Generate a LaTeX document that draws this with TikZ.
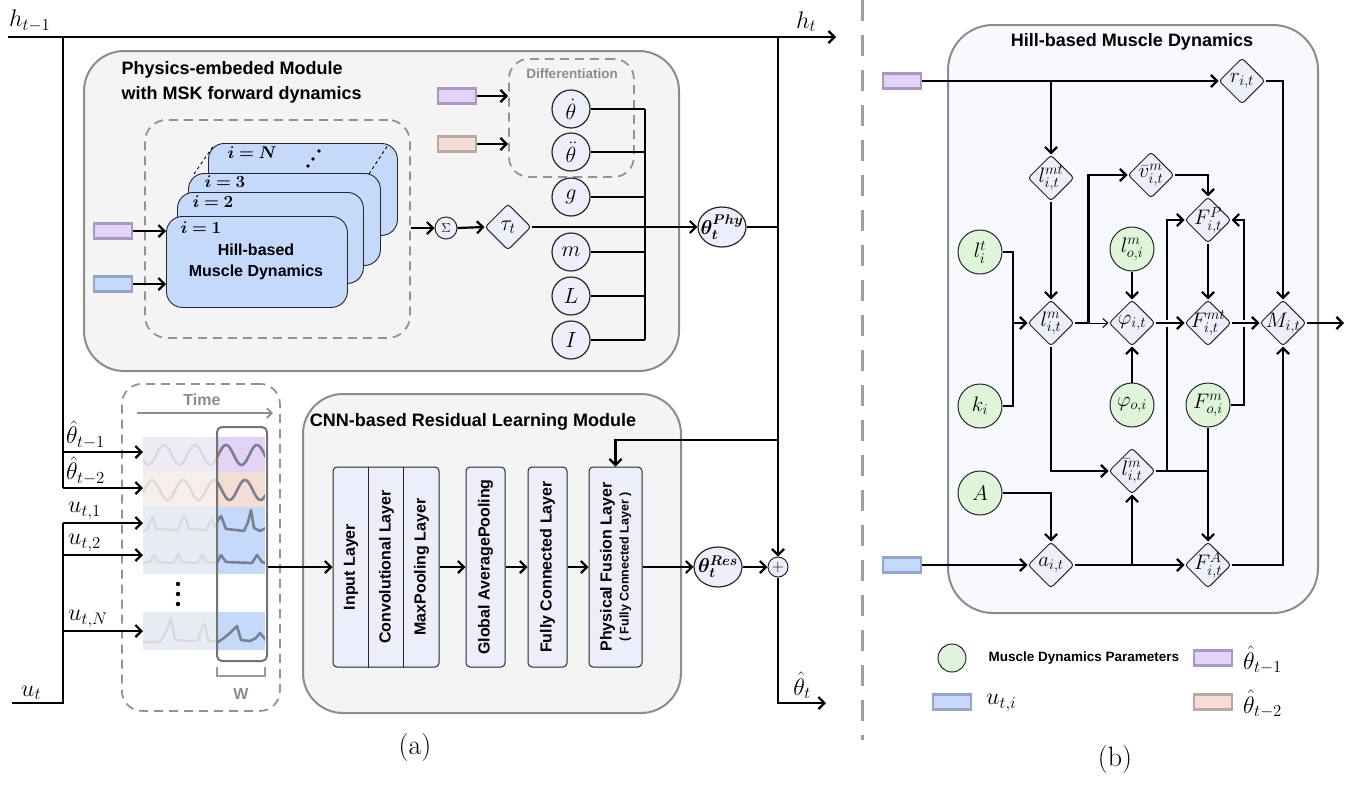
\RequirePackage{fix-cm}
\documentclass[tikz,border=0pt]{standalone}
\usepackage{amsmath}
\usepackage{bm}
\usepackage{fontspec}
\setsansfont{Liberation Sans}
\usetikzlibrary{arrows.meta,shapes.geometric,calc}
\definecolor{purp}{HTML}{E3D3F7}
\definecolor{purpb}{HTML}{A898C6}
\definecolor{peach}{HTML}{F4DDD3}
\definecolor{peachb}{HTML}{BCA8A1}
\definecolor{blu}{HTML}{C5DAFB}
\definecolor{blub}{HTML}{92A5CB}
\definecolor{lav}{HTML}{ECEEFC}
\definecolor{grn}{HTML}{DFF5D9}
\definecolor{modbg}{HTML}{F4F4F4}
\definecolor{hillbg}{HTML}{F8F9FF}
\definecolor{modln}{HTML}{8C8C8C}
\definecolor{fadeP}{HTML}{EEEBF4}
\definecolor{fadeE}{HTML}{F5EEEB}
\definecolor{fadeB}{HTML}{E7EBF3}
\definecolor{sigdark}{HTML}{7A8090}
\newcommand\fTitle{\fontsize{18}{25}\selectfont\sffamily\bfseries}
\newcommand\fLay{\fontsize{16}{19}\selectfont\sffamily\bfseries}
\newcommand\fMath{\fontsize{24}{26}\selectfont}
\newcommand\fDia{\fontsize{21}{23}\selectfont}
\newcommand\sigpaths{%
 \draw plot[domain=143:266,samples=100] (\x,{455-10*cos(11.613*(\x-164))});
 \draw plot[domain=143:266,samples=100] (\x,{490-10*cos(11.613*(\x-152))});
 \draw (143,531) -- (147,530) -- (150,522) -- (153,517) -- (156,529) -- (178,530) -- (182,520) -- (185,516) -- (189,529) -- (206,530) -- (210,522) -- (212,519) -- (215,528) -- (218,520) -- (221,516) -- (226,529) -- (236,530) -- (244,531) -- (248,522) -- (251,510) -- (254,528) -- (260,531) -- (266,528);
 \draw (143,563) -- (150,562) -- (154,555) -- (158,562) -- (174,563) -- (178,554) -- (182,562) -- (198,563) -- (202,555) -- (206,562) -- (217,563) -- (221,555) -- (226,562) -- (252,563) -- (257,555) -- (262,562) -- (266,563);
 \draw (143,642) -- (160,642) -- (166,632) -- (171,618) -- (175,640) -- (190,641) -- (198,640) -- (202,628) -- (205,624) -- (208,640) -- (218,642) -- (224,638) -- (230,633) -- (237,626) -- (241,640) -- (250,641) -- (256,638) -- (260,633) -- (266,640);
}
\begin{document}
\begin{tikzpicture}[x=1pt,y=-1pt,
  ln/.style={line width=2.2pt, black},
  arr/.style={ln, -{Straight Barb[length=6pt,width=12pt]}},
  mod/.style={draw=modln, line width=2pt, fill=modbg, rounded corners=40pt, inner sep=0},
  dbox/.style={draw=gray!85, line width=1.8pt, dash pattern=on 9pt off 6pt, rounded corners=22pt, inner sep=0},
  stk/.style={draw=black!85, line width=0.9pt, fill=blu, rounded corners=16pt, inner sep=0},
  pc/.style={circle, draw=black!85, line width=1.2pt, fill=lav, minimum size=38pt, inner sep=0},
  dia/.style={diamond, aspect=1, draw=black!85, line width=1pt, fill=lav, minimum size=46pt, inner sep=0, rounded corners=3pt},
  gc/.style={circle, draw=black!85, line width=1pt, fill=grn, minimum size=44pt, inner sep=0},
  dl/.style={label={[font=\fDia, inner sep=0]center:#1}},
  cl/.style={label={[font=\fontsize{22}{24}\selectfont, inner sep=0]center:#1}},
  el/.style={label={[font=\fontsize{20}{22}\selectfont, inner sep=0]center:#1}},
  lay/.style={draw=black!85, line width=1pt, fill=lav, minimum height=200pt, inner sep=0, rounded corners=4pt},
  ell/.style={ellipse, draw=black!85, line width=1.2pt, fill=lav, minimum width=48pt, minimum height=40pt, inner sep=0},
  chip/.style={rectangle, minimum width=38pt, minimum height=15pt, inner sep=0, line width=2.5pt},
  pchip/.style={chip, fill=purp, draw=purpb},
  echip/.style={chip, fill=peach, draw=peachb},
  bchip/.style={chip, fill=blu, draw=blub},
  mlab/.style={font=\fMath, inner sep=1pt},
  ttl/.style={font=\fTitle},
  gtxt/.style={font=\fontsize{16}{18}\selectfont\sffamily\bfseries, text=gray!90}
]
\useasboundingbox (0,0) rectangle (1363,785);

% ---------------- (a) ----------------
\coordinate (hL) at (8,37);
\coordinate (hR) at (836,37);
\draw[arr] (hL) -- (hR);
\node[mlab, anchor=south west] at (8,33) {$h_{t-1}$};
\node[mlab, anchor=south] at (806,33) {$h_t$};

% physics module
\node[mod, anchor=north west, minimum width=595pt, minimum height=320pt] (phys) at (83,50) {};
\node[ttl, anchor=north west, align=left] at (118,58) {Physics-embeded Module\\with MSK forward dynamics};
\node[dbox, anchor=north west, minimum width=265pt, minimum height=218pt] (dash1) at (144,119) {};
\node[stk, anchor=north west, minimum width=189pt, minimum height=92pt] (sN) at (208,143) {};
\node[stk, anchor=north west, minimum width=192pt, minimum height=92pt] (s3) at (188,173) {};
\draw[dashed, line width=0.9pt] (194,174) -- (214,145);
\draw[dashed, line width=0.9pt] (369,174) -- (388,145);
\node[stk, anchor=north west, minimum width=186pt, minimum height=91pt] (s2) at (177,192) {};
\node[stk, anchor=north west, minimum width=181pt, minimum height=91pt] (s1) at (166,216) {};
\fill (308,166) circle (1.8);
\fill (313,159) circle (1.8);
\fill (319,151) circle (1.8);
\node[anchor=west, font=\fontsize{17}{19}\selectfont] at (224,153) {$\bm{i=N}$};
\node[anchor=west, font=\fontsize{17}{19}\selectfont] at (201,182) {$\bm{i=3}$};
\node[anchor=west, font=\fontsize{17}{19}\selectfont] at (189,202) {$\bm{i=2}$};
\node[anchor=west, font=\fontsize{17}{19}\selectfont] at (177,228) {$\bm{i=1}$};
\node[align=center, font=\fontsize{16}{21}\selectfont\sffamily\bfseries] at (256,262) {Hill-based\\Muscle Dynamics};
\node[pchip] (p1) at (113,231) {};
\node[bchip] (b1) at (113,284) {};
\draw[arr] (p1.east) -- (p1 -| s1.west);
\draw[arr] (b1.east) -- (b1 -| s1.west);

\node[circle, draw=black!85, line width=1pt, fill=lav, minimum size=22pt, inner sep=0, font=\fontsize{13}{13}\selectfont] (sig) at (446,228) {$\Sigma$};
\draw[arr] (dash1.east |- sig) -- (sig.west);
\node[dia, cl={$\tau_t$}] (tau) at (508,227) {};
\draw[arr] (sig.east) -- (tau.west);

\node[dbox, anchor=north west, minimum width=125pt, minimum height=118pt, rounded corners=20pt] (diff) at (508,58) {};
\node[font=\fontsize{13.5}{15}\selectfont\sffamily\bfseries, text=gray!90] at (572,74) {Differentiation};
\node[pchip] (p2) at (457,96) {};
\node[echip] (e2) at (457,144) {};
\draw[arr] (p2.east) -- (p2 -| diff.west);
\draw[arr] (e2.east) -- (e2 -| diff.west);

\node[pc, cl={$\dot\theta$}] (c1) at (571,109) {};
\node[pc, cl={$\ddot\theta$}] (c2) at (571,152) {};
\node[pc, cl={$g$}] (c3) at (571,197) {};
\node[pc, cl={$m$}] (c4) at (571,252) {};
\node[pc, cl={$L$}] (c5) at (571,296) {};
\node[pc, cl={$I$}] (c6) at (571,340) {};
\coordinate (bus1) at (645,109);
\coordinate (bus6) at (645,340);
\foreach \c in {c1,c2,c3,c4,c5,c6} \draw[ln] (\c.east) -- (\c -| bus1);
\draw[ln] (bus1) -- (bus6);

\node[ell, el={$\bm{\theta}_{\bm t}^{\bm{Phy}}$}] (phy) at (722,227) {};
\draw[arr] (tau.east) -- (phy.west);
\coordinate (vtop) at (778,37);
\draw[ln] (phy.east) -- (phy -| vtop);

% time window
\node[dbox, anchor=north west, minimum width=158pt, minimum height=327pt, rounded corners=20pt] (timeb) at (121,383) {};
\node[gtxt] (tlab) at (202,400) {Time};
\draw[gray!90, line width=1.6pt, -{Straight Barb[length=5pt,width=10pt]}] (137,413) -- (273,413);
\fill[fadeP] (143,437) rectangle (216,472);
\fill[purp] (216,437) rectangle (265,472);
\fill[fadeE] (143,472) rectangle (216,507);
\fill[peach] (216,472) rectangle (265,507);
\fill[fadeB] (143,507) rectangle (216,574);
\fill[blu] (216,507) rectangle (265,574);
\fill[fadeB] (143,612) rectangle (216,650);
\fill[blu] (216,612) rectangle (265,650);
\begin{scope}[color=black!15, line width=2.2pt, line join=round]
 \clip (143,430) rectangle (216,660);
 \sigpaths
\end{scope}
\begin{scope}[color=sigdark, line width=2.6pt, line join=round]
 \clip (216,430) rectangle (265,660);
 \sigpaths
\end{scope}
\fill (178,584) circle (2.2);
\fill (178,594) circle (2.2);
\fill (178,604) circle (2.2);
\node[draw=black!55, line width=2pt, rounded corners=5pt, anchor=north west, minimum width=50pt, minimum height=234pt, inner sep=0] (win) at (216,426) {};
\draw[gray!80, line width=1.3pt] (217,667) -- (217,676) -- (265,676) -- (265,667);
\node[gtxt] (wlab) at (241,694) {W};

% inputs
\coordinate (in1) at (143,452);
\coordinate (in2) at (143,488);
\coordinate (in3) at (143,523);
\coordinate (in4) at (143,555);
\coordinate (in5) at (143,631);
\draw[ln] (63,37) -- (63,488);
\draw[arr] (63,452) -- (in1);
\draw[arr] (63,488) -- (in2);
\draw[ln] (12,703) -- (63,703) -- (63,523);
\draw[arr] (63,523) -- (in3);
\draw[arr] (63,555) -- (in4);
\draw[arr] (63,631) -- (in5);
\node[mlab, anchor=south west] at (65,450) {$\hat{\theta}_{t-1}$};
\node[mlab, anchor=south west] at (65,486) {$\hat{\theta}_{t-2}$};
\node[mlab, anchor=south west] at (67,521) {$u_{t,1}$};
\node[mlab, anchor=south west] at (67,553) {$u_{t,2}$};
\node[mlab, anchor=south west] at (67,629) {$u_{t,N}$};
\node[mlab, anchor=south west] at (20,701) {$u_t$};

% CNN module
\node[mod, anchor=north west, minimum width=378pt, minimum height=319pt] (cnn) at (302,393) {};
\node[ttl] at (473,422) {CNN-based Residual Learning Module};
\node[lay, minimum width=106pt] (grp) at (386,567) {};
\draw[line width=1pt, black!85] ($(grp.north west)+(36,0)$) -- ($(grp.south west)+(36,0)$);
\draw[line width=1pt, black!85] ($(grp.north west)+(71,0)$) -- ($(grp.south west)+(71,0)$);
\node[rotate=90, font=\fLay] at (351,567) {Input Layer};
\node[rotate=90, font=\fLay] at (386.5,567) {Convolutional Layer};
\node[rotate=90, font=\fLay] at (421.5,567) {MaxPooling Layer};
\node[lay, minimum width=39pt] (gap) at (485.5,567) {};
\node[rotate=90, font=\fLay] at (gap) {Global AveragePooling};
\node[lay, minimum width=39pt] (fc) at (547.5,567) {};
\node[rotate=90, font=\fLay] at (fc) {Fully Connected Layer};
\node[lay, minimum width=53pt] (pf) at (615.5,567) {};
\node[rotate=90, align=center, font=\fLay] at (pf) {Physical Fusion Layer\\[-2pt]{\fontsize{12.5}{14}\selectfont( Fully Connected Layer )}};
\node[ell, el={$\bm{\theta}_{\bm t}^{\bm{Res}}$}] (res) at (718,567) {};
\node[circle, draw=black!85, line width=1pt, fill=lav, minimum size=20pt, inner sep=0, font=\fontsize{16}{16}\selectfont] (plus) at (778,567) {$+$};
\draw[arr] (win.east |- grp) -- (grp.west);
\draw[arr] (grp.east) -- (gap.west);
\draw[arr] (gap.east) -- (fc.west);
\draw[arr] (fc.east) -- (pf.west);
\draw[arr] (pf.east) -- (res.west);
\draw[arr] (res.east) -- (plus.west);
\draw[arr] (vtop) -- (plus.north);
\coordinate (br) at (778,440);
\draw[arr] (br) -| (pf.north);
\coordinate (outc) at (778,703);
\coordinate (oute) at (826,703);
\draw[arr] (plus.south) -- (outc) -- (oute);
\node[mlab, anchor=south] at (802,700) {$\hat\theta_t$};

% separator
\draw[gray!75, line width=3pt, dash pattern=on 21pt off 14pt] (862,0) -- (862,740);
\node[font=\fontsize{28}{30}\selectfont] at (415,748) {(a)};
\node[font=\fontsize{28}{30}\selectfont] at (1115,760) {(b)};

% ---------------- (b) ----------------
\node[mod, fill=hillbg, rounded corners=45pt, anchor=north west, minimum width=370pt, minimum height=588pt] (hill) at (947,24) {};
\node[ttl] at (1132,42) {Hill-based Muscle Dynamics};
\node[pchip] (pR) at (902,81) {};
\node[bchip] (bR) at (902,565) {};
\node[dia, dl={$r_{i,t}$}] (r) at (1242,81) {};
\node[dia, dl={$l_{i,t}^{mt}$}] (lmt) at (1051,178) {};
\node[dia, dl={$\bar v_{i,t}^{m}$}] (vb) at (1151,175) {};
\node[dia, dl={$F_{i,t}^{P}$}] (FP) at (1208,220) {};
\node[dia, dl={$l_{i,t}^{m}$}] (lm) at (1051,323) {};
\node[dia, dl={$\varphi_{i,t}$}] (phi) at (1132,323) {};
\node[dia, dl={$F_{i,t}^{mt}$}] (Fmt) at (1208,323) {};
\node[dia, dl={$M_{i,t}$}] (M) at (1283,323) {};
\node[dia, dl={$\bar l_{i,t}^{m}$}] (lb) at (1132,471) {};
\node[dia, dl={$a_{i,t}$}] (a) at (1051,565) {};
\node[dia, dl={$F_{i,t}^{A}$}] (FA) at (1208,565) {};
\node[gc, dl={$l_i^t$}] (lt) at (980,252) {};
\node[gc, dl={$l_{o,i}^m$}] (lmo) at (1132,249) {};
\node[gc, dl={$k_i$}] (kk) at (980,406) {};
\node[gc, dl={$\varphi_{o,i}$}] (phio) at (1132,405) {};
\node[gc, dl={$F_{o,i}^m$}] (Fmo) at (1208,405) {};
\node[gc, dl={$A$}] (A) at (980,493) {};

\draw[arr] (pR.east) -- (r.west);
\draw[arr] (lmt.north |- pR) -- (lmt.north);
\draw[arr] (lmt.south) -- (lm.north);
\draw[arr] (r.east) -| (M.north);
\coordinate (kb) at (1013,323);
\draw[ln] (lt.east) -| (kb);
\draw[ln] (kk.east) -| (kb);
\draw[arr] (kb) -- (lm.west);
\draw[arr] (lm.east) -- ++(14,0) |- (vb.west);
\draw[line width=1pt, -{Straight Barb[length=5pt,width=9pt]}] (lm.east) -- (phi.west);
\draw[arr] (vb.east) -| (FP.north);
\draw[arr] (FP.south) -- (Fmt.north);
\draw[arr] (lmo.south) -- (phi.north);
\draw[arr] (phio.north) -- (phi.south);
\draw[arr] (lm.south) |- (lb.west);
\coordinate (x1) at (1167,471);
\draw[arr] (lb.east) -- (x1) |- (FP.west);
\draw[ln] (lb.east) -- (lb -| Fmo);
\draw[arr] (Fmo.south) -- (FA.north);
\coordinate (x2) at (1244,405);
\draw[arr] (Fmo.east) -- (x2) |- (FP.east);
\draw[white, line width=7pt] ($(phi.east)+(6,0)$) -- ($(Fmt.west)+(-8,0)$);
\draw[white, line width=7pt] ($(Fmt.east)+(6,0)$) -- ($(M.west)+(-8,0)$);
\draw[arr] (phi.east) -- (Fmt.west);
\draw[arr] (Fmt.east) -- (M.west);
\draw[arr] (A.east) -| (a.north);
\draw[arr] (bR.east) -- (a.west);
\draw[arr] (a.east) -- (FA.west);
\draw[arr] (lb.south |- a) -- (lb.south);
\draw[arr] (FA.east) -| (M.south);
\coordinate (mo) at (1344,323);
\draw[arr] (M.east) -- (mo);

% legend
\node[circle, draw=black!85, line width=1pt, fill=grn, minimum width=28pt, minimum height=27pt, inner sep=0] (lg1) at (952,658) {};
\node[anchor=west, font=\fontsize{13.5}{15}\selectfont\sffamily\bfseries] at (985,658) {Muscle Dynamics Parameters};
\node[pchip] (lg2) at (1213,658) {};
\node[mlab, anchor=west] at (1242,660) {$\hat\theta_{t-1}$};
\node[bchip] (lg3) at (952,702) {};
\node[mlab, anchor=west] at (985,703) {$u_{t,i}$};
\node[echip] (lg4) at (1213,702) {};
\node[mlab, anchor=west] at (1242,704) {$\hat\theta_{t-2}$};
\end{tikzpicture}
\end{document}
